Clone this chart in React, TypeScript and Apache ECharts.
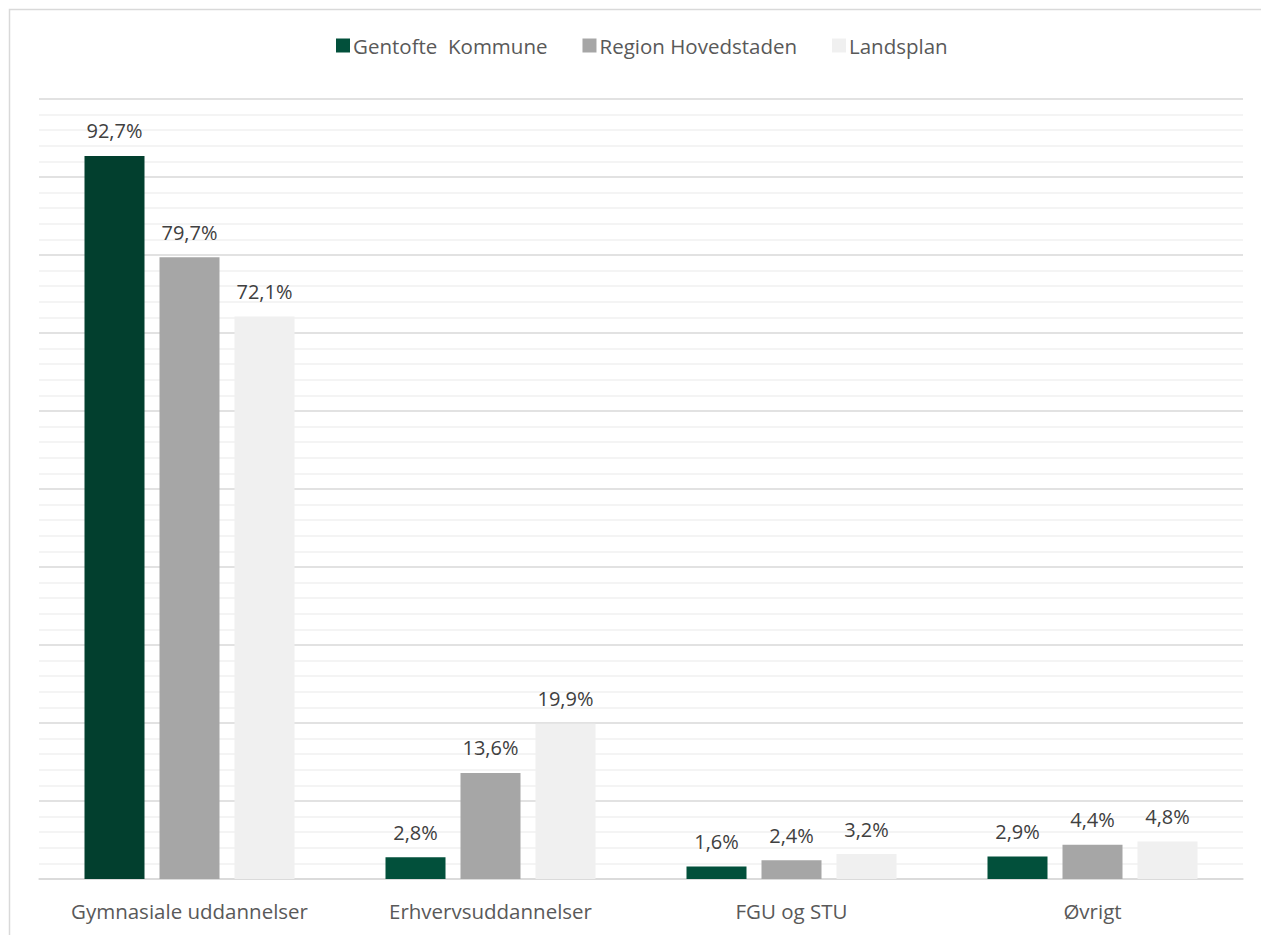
import React, { useEffect, useRef } from "react";
import * as echarts from "echarts";

const categories = ["Gymnasiale uddannelser", "Erhvervsuddannelser", "FGU og STU", "Øvrigt"];
const seriesNames = ["Gentofte  Kommune", "Region Hovedstaden", "Landsplan"];
const gentofte = [92.7, 2.8, 1.6, 2.9];
const region = [79.7, 13.6, 2.4, 4.4];
const landsplan = [72.1, 19.9, 3.2, 4.8];
const colors = ["#02503b", "#a6a6a6", "#f0f0f0"];

const FONT = "'Open Sans', 'Noto Sans', sans-serif";

export default function App() {
  const ref = useRef<HTMLDivElement>(null);
  useEffect(() => {
    if (!ref.current) return;
    const chart = echarts.init(ref.current, undefined, { renderer: "svg" });
    const fmt = (p: any) => String(p.value.toFixed(1)).replace(".", ",") + "%";
    const label = {
      show: true,
      position: "top",
      distance: 15,
      formatter: fmt,
      color: "#404040",
      fontSize: 20,
      fontFamily: FONT,
    };
    const data = [gentofte, region, landsplan];
    chart.setOption({
      animation: false,
      backgroundColor: "#ffffff",
      textStyle: { fontFamily: FONT },
      graphic: [
        {
          type: "rect",
          shape: { x: 9.5, y: 9.5, width: 1400, height: 1000 },
          style: { fill: "none", stroke: "#d9d9d9", lineWidth: 1.5 },
          silent: true,
        },
      ],
      legend: {
        data: seriesNames,
        top: 30,
        left: 331,
        itemWidth: 14,
        itemHeight: 14,
        itemGap: 35,
        textStyle: { color: "#595959", fontSize: 20.5, fontFamily: FONT, padding: [0, 0, 0, -2] },
        icon: "rect",
      },
      grid: { left: 39, right: 18, top: 99, bottom: 56, containLabel: false },
      xAxis: {
        type: "category",
        data: categories,
        axisLine: { lineStyle: { color: "#d9d9d9", width: 1.5 } },
        axisTick: { show: false },
        axisLabel: { color: "#595959", fontSize: 20.5, fontFamily: FONT, margin: 21, interval: 0 },
      },
      yAxis: {
        type: "value",
        min: 0,
        max: 100,
        interval: 10,
        axisLabel: { show: false },
        axisLine: { show: false },
        axisTick: { show: false },
        splitLine: { lineStyle: { color: "#d9d9d9", width: 1.5 } },
        minorTick: { show: false, splitNumber: 5 },
        minorSplitLine: { show: true, lineStyle: { color: "#f0f0f0", width: 1.5 } },
      },
      series: seriesNames.map((name, i) => ({
        name,
        type: "bar",
        data: data[i].map((v, j) =>
          i === 0 && j === 0 ? { value: v, itemStyle: { color: "#023f2e" } } : v
        ),
        itemStyle: { color: colors[i] },
        barWidth: 60,
        barGap: "25%",
        label,
      })),
    });
    return () => chart.dispose();
  }, []);
  return (
    <div
      ref={ref}
      style={{ position: "fixed", left: 0, top: 0, width: 1261, height: 935 }}
    />
  );
}
